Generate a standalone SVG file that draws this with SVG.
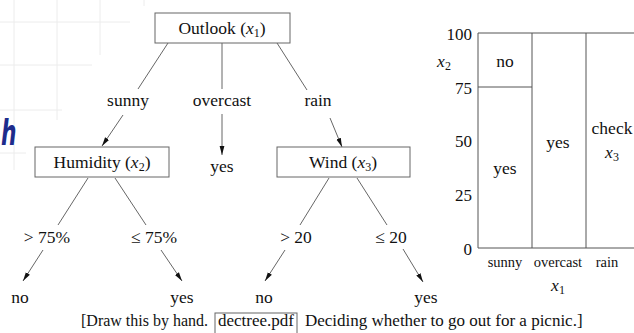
<svg xmlns="http://www.w3.org/2000/svg" width="634" height="333" viewBox="0 0 634 333">
<style>
  text { font-family: "Liberation Serif", "Times New Roman", serif; fill: #111; }
  .t { font-size: 17.5px; text-anchor: middle; }
  .cap { font-size: 17px; }
  .ax { font-size: 17px; text-anchor: end; }
  .sm { font-size: 14.5px; text-anchor: middle; }
  .it { font-style: italic; }
  .box { fill: #fff; stroke: #666; stroke-width: 1; }
  .edge { stroke: #555; stroke-width: 0.9; fill: none; }
  .arr { stroke: #555; stroke-width: 0.9; fill: none; marker-end: url(#ah); }
  .grid { stroke: #ececec; stroke-width: 1; fill: none; }
  .plot { stroke: #555; stroke-width: 1; fill: none; }
</style>
<defs>
  <marker id="ah" markerUnits="userSpaceOnUse" markerWidth="10" markerHeight="8" refX="9" refY="3" orient="auto">
    <path d="M0,0.6 L9,3 L0,5.4 Z" fill="#111"/>
  </marker>
</defs>
<rect width="634" height="333" fill="#fff"/>
<g id="background-grid">
  <line class="grid" x1="0" y1="22" x2="130" y2="22"/>
  <line class="grid" x1="0" y1="65" x2="92" y2="65"/>
  <line class="grid" x1="0" y1="110" x2="62" y2="110"/>
  <line class="grid" x1="0" y1="153" x2="26" y2="153"/>
  <line class="grid" x1="14" y1="0" x2="14" y2="170"/>
  <line class="grid" x1="57" y1="0" x2="57" y2="120"/>
  <line class="grid" x1="100" y1="0" x2="100" y2="55"/>
  <line class="grid" x1="144" y1="0" x2="144" y2="6"/>
  <text transform="translate(1,145) scale(0.68,1.1)" style="font-family:'DejaVu Sans',sans-serif;font-size:32px;font-style:italic;font-weight:bold;fill:#1d2c8c">h</text>
</g>
<g id="connectors">
  <line class="edge" x1="168" y1="43" x2="138" y2="89"/>
  <line class="arr" x1="123" y1="115" x2="102" y2="146"/>
  <line class="edge" x1="222" y1="43" x2="222" y2="89"/>
  <line class="arr" x1="222" y1="114" x2="222" y2="155"/>
  <line class="edge" x1="277" y1="43" x2="307" y2="90"/>
  <line class="arr" x1="330" y1="118" x2="342" y2="147"/>
  <line class="edge" x1="88" y1="178" x2="58" y2="225"/>
  <line class="arr" x1="43" y1="250" x2="23" y2="281"/>
  <line class="edge" x1="115" y1="178" x2="146" y2="225"/>
  <line class="arr" x1="161" y1="250" x2="182" y2="281"/>
  <line class="edge" x1="329" y1="178" x2="300" y2="225"/>
  <line class="arr" x1="285" y1="250" x2="265" y2="281"/>
  <line class="edge" x1="357" y1="178" x2="387" y2="225"/>
  <line class="arr" x1="403" y1="249" x2="423" y2="282"/>
</g>
<g id="outlook">
  <rect class="box" x="155" y="13" width="135" height="30"/>
  <text class="t" x="222" y="34">Outlook (<tspan class="it">x</tspan><tspan font-size="12" dy="3">1</tspan><tspan dy="-3">)</tspan></text>
</g>
<g id="label-sunny"><text class="t" x="128" y="106">sunny</text></g>
<g id="label-overcast"><text class="t" x="222" y="106">overcast</text></g>
<g id="label-rain"><text class="t" x="318" y="106">rain</text></g>
<g id="humidity">
  <rect class="box" x="35" y="147" width="134" height="30"/>
  <text class="t" x="102" y="168">Humidity (<tspan class="it">x</tspan><tspan font-size="12" dy="3">2</tspan><tspan dy="-3">)</tspan></text>
</g>
<g id="leaf-overcast-yes"><text class="t" x="222" y="172">yes</text></g>
<g id="wind">
  <rect class="box" x="277" y="147" width="133" height="30"/>
  <text class="t" x="343" y="168">Wind (<tspan class="it">x</tspan><tspan font-size="12" dy="3">3</tspan><tspan dy="-3">)</tspan></text>
</g>
<g id="label-hum-gt"><text class="t" x="47" y="243">&gt; 75%</text></g>
<g id="label-hum-le"><text class="t" x="154" y="243">≤ 75%</text></g>
<g id="label-wind-gt"><text class="t" x="296" y="243">&gt; 20</text></g>
<g id="label-wind-le"><text class="t" x="391" y="243">≤ 20</text></g>
<g id="leaf-hum-no"><text class="t" x="20" y="303">no</text></g>
<g id="leaf-hum-yes"><text class="t" x="182" y="303">yes</text></g>
<g id="leaf-wind-no"><text class="t" x="264" y="303">no</text></g>
<g id="leaf-wind-yes"><text class="t" x="426" y="303">yes</text></g>
<g id="caption">
  <text class="cap" x="81" y="326" style="font-size:16px">[Draw this by hand.</text>
  <rect class="box" x="215" y="313" width="82" height="24"/>
  <text class="cap" x="256" y="326" text-anchor="middle">dectree.pdf</text>
  <text class="cap" x="305" y="326">Deciding whether to go out for a picnic.]</text>
</g>
<g id="chart">
  <line class="plot" x1="478" y1="33" x2="634" y2="33"/>
  <line class="plot" x1="478" y1="33" x2="478" y2="248"/>
  <line class="plot" x1="478" y1="248" x2="634" y2="248"/>
  <line class="plot" x1="532" y1="33" x2="532" y2="248"/>
  <line class="plot" x1="586" y1="33" x2="586" y2="248"/>
  <line class="plot" x1="478" y1="87" x2="532" y2="87"/>
  <text class="ax" x="472" y="40">100</text>
  <text class="ax" x="472" y="94">75</text>
  <text class="ax" x="472" y="147">50</text>
  <text class="ax" x="472" y="201">25</text>
  <text class="ax" x="472" y="255">0</text>
  <text class="t it" x="444" y="67">x<tspan font-size="12" dy="3" font-style="normal">2</tspan></text>
  <text class="t" x="505" y="67">no</text>
  <text class="t" x="505" y="174">yes</text>
  <text class="t" x="558" y="148">yes</text>
  <text class="t" x="612" y="134">check</text>
  <text class="t it" x="612" y="158">x<tspan font-size="12" dy="3" font-style="normal">3</tspan></text>
  <text class="sm" x="505" y="267">sunny</text>
  <text class="sm" x="558" y="267">overcast</text>
  <text class="sm" x="607" y="267">rain</text>
  <text class="t it" x="558" y="291">x<tspan font-size="12" dy="3" font-style="normal">1</tspan></text>
</g>
</svg>
